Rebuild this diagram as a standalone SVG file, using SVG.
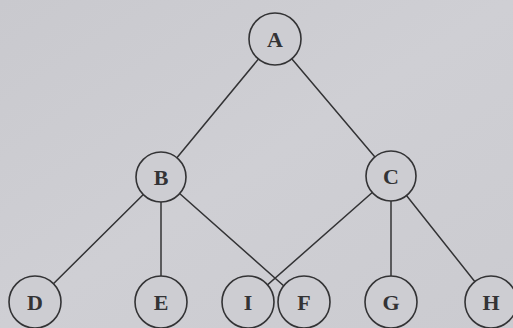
<svg xmlns="http://www.w3.org/2000/svg" width="513" height="328" viewBox="0 0 513 328">
  <style>
    .edge { stroke: #333335; stroke-width: 1.5; fill: none; stroke-linecap: round; }
    .node circle { fill: #cdcdd2; stroke: #333335; stroke-width: 1.6; }
    .node text { font-family: "Liberation Serif", "Times New Roman", serif; font-weight: bold; font-size: 22px; fill: #333335; text-anchor: middle; }
  </style>
  <defs>
    <linearGradient id="paper" x1="0" y1="0" x2="1" y2="1">
      <stop offset="0" stop-color="#c9c9ce"/>
      <stop offset="0.5" stop-color="#cfcfd4"/>
      <stop offset="1" stop-color="#cbcbd0"/>
    </linearGradient>
  </defs>
  <rect width="513" height="328" fill="url(#paper)"/>

  <!-- tree edges -->
  <g id="connectors">
    <line class="edge" x1="275" y1="39" x2="161" y2="177"/>
    <line class="edge" x1="275" y1="39" x2="391" y2="176"/>
    <line class="edge" x1="161" y1="177" x2="35" y2="302"/>
    <line class="edge" x1="161" y1="177" x2="161" y2="302"/>
    <line class="edge" x1="161" y1="177" x2="302" y2="302"/>
    <line class="edge" x1="391" y1="176" x2="248" y2="302"/>
    <line class="edge" x1="391" y1="176" x2="391" y2="302"/>
    <line class="edge" x1="391" y1="176" x2="491" y2="302"/>
  </g>

  <g id="node-A" class="node"><circle cx="275" cy="39" r="26"/><text x="275" y="47">A</text></g>
  <g id="node-B" class="node"><circle cx="161" cy="177" r="25"/><text x="161" y="185">B</text></g>
  <g id="node-C" class="node"><circle cx="391" cy="176" r="25"/><text x="391" y="184">C</text></g>
  <g id="node-D" class="node"><circle cx="35" cy="302" r="26"/><text x="35" y="310">D</text></g>
  <g id="node-E" class="node"><circle cx="161" cy="302" r="26"/><text x="161" y="310">E</text></g>
  <g id="node-I" class="node"><circle cx="248" cy="302" r="26"/><text x="248" y="310">I</text></g>
  <g id="node-F" class="node"><circle cx="304" cy="302" r="26"/><text x="304" y="310">F</text></g>
  <g id="node-G" class="node"><circle cx="391" cy="302" r="26"/><text x="391" y="310">G</text></g>
  <g id="node-H" class="node"><circle cx="491" cy="302" r="26"/><text x="491" y="310">H</text></g>
</svg>
